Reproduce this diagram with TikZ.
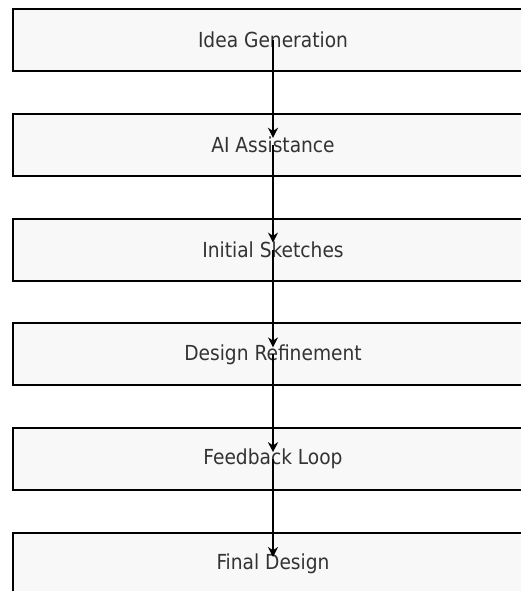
\documentclass[tikz,border=0pt]{standalone}
\usepackage{fontspec}
\setmainfont{DejaVu Sans Condensed}
\usepackage{tikz}
\usetikzlibrary{arrows.meta,positioning}
\definecolor{stageFill}{RGB}{248,248,248}
\definecolor{stageInk}{RGB}{51,51,51}
\tikzset{
  stagebox/.style={draw=black, line width=2pt, fill=stageFill, text=stageInk, align=center, minimum width=520pt, minimum height=62pt, inner sep=0pt, font=\fontsize{20.7pt}{24pt}\selectfont},
  flow/.style={-{Stealth[length=10pt, width=10pt]}, line width=2.2pt, draw=black, shorten >=7pt}
}
\begin{document}
\begin{tikzpicture}[node distance=40.8pt]
        \useasboundingbox (0,0) rectangle (521pt,-591pt);
        \node[stagebox] (idea) at (273pt,-40pt) {Idea Generation};
        \node[stagebox, below=of idea] (ai) {AI Assistance};
        \node[stagebox, below=of ai] (sketch) {Initial Sketches};
        \node[stagebox, below=of sketch] (refine) {Design Refinement};
        \node[stagebox, below=of refine] (feedback) {Feedback Loop};
        \node[stagebox, below=of feedback] (final) {Final Design};
        \draw[flow] (idea.center) -- (ai.center);
        \draw[flow] (ai.center) -- (sketch.center);
        \draw[flow] (sketch.center) -- (refine.center);
        \draw[flow] (refine.center) -- (feedback.center);
        \draw[flow] (feedback.center) -- (final.center);
      \end{tikzpicture}
\end{document}
